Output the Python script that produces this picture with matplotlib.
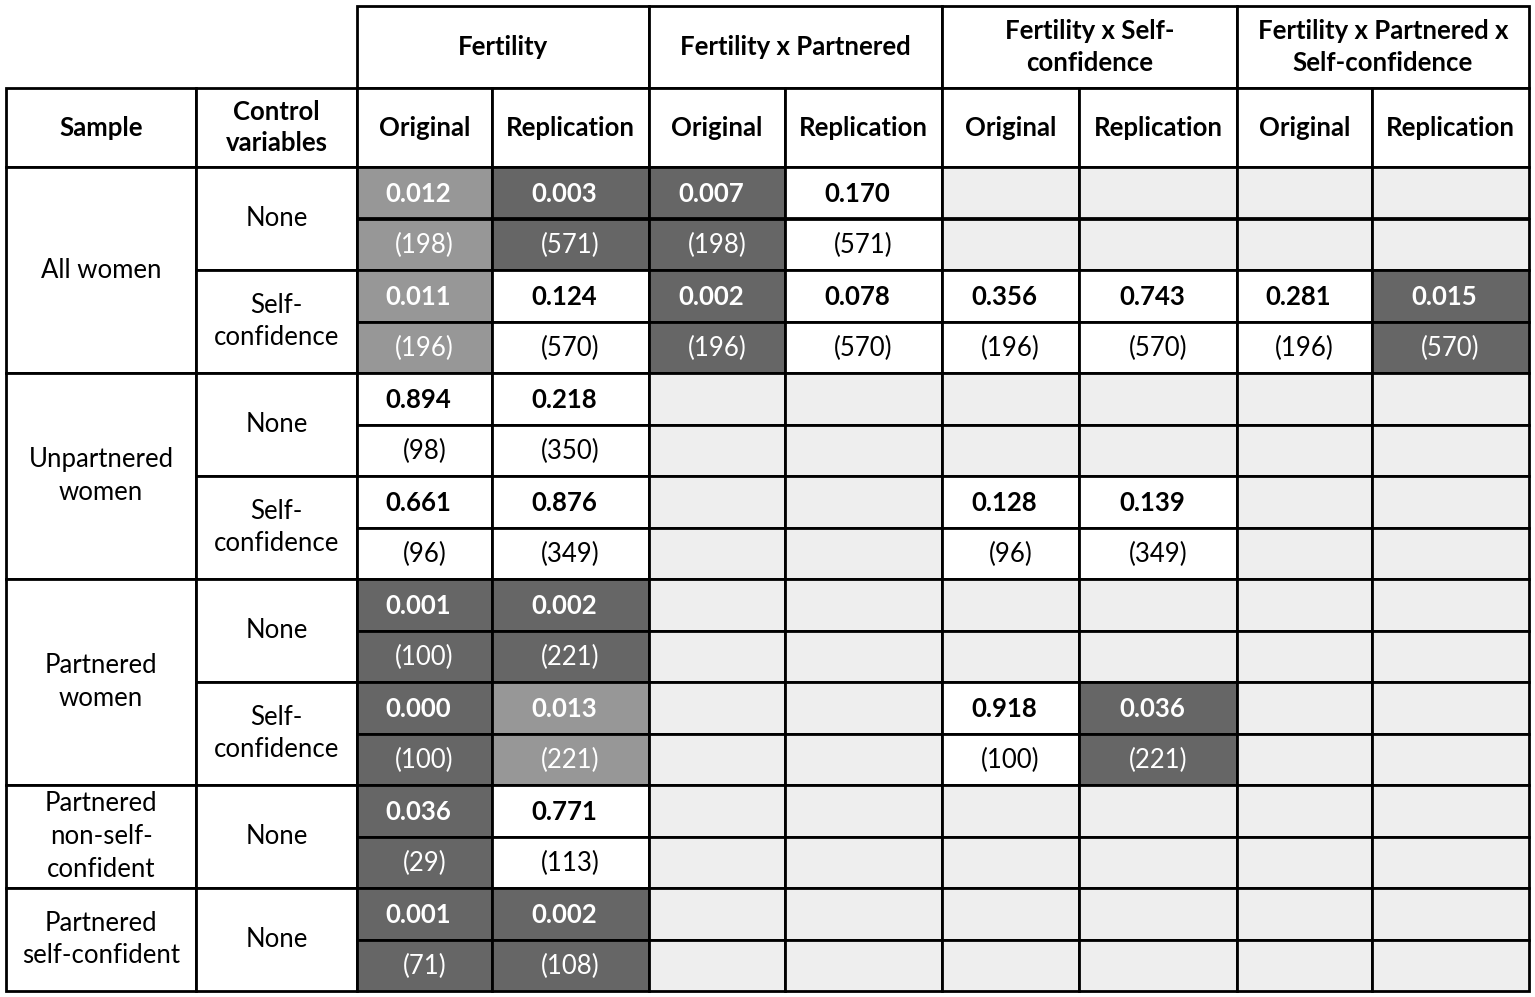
import matplotlib
matplotlib.use('Agg')
import matplotlib.pyplot as plt
from matplotlib.patches import Rectangle

plt.rcParams['font.family'] = ['Lato', 'DejaVu Sans']

groups = ['Fertility', 'Fertility x Partnered', 'Fertility x Self-\nconfidence',
          'Fertility x Partnered x\nSelf-confidence']
subcols = ['Original', 'Replication']
samples = ['All women', 'Unpartnered\nwomen', 'Partnered\nwomen',
           'Partnered\nnon-self-\nconfident', 'Partnered\nself-confident']
sample_spans = [2, 2, 2, 1, 1]
controls = ['None', 'Self-\nconfidence', 'None', 'Self-\nconfidence', 'None',
            'Self-\nconfidence', 'None', 'None']

# p-values per control row (8 columns), None = not estimated
pvals = [
    ['0.012', '0.003', '0.007', '0.170', None, None, None, None],
    ['0.011', '0.124', '0.002', '0.078', '0.356', '0.743', '0.281', '0.015'],
    ['0.894', '0.218', None, None, None, None, None, None],
    ['0.661', '0.876', None, None, '0.128', '0.139', None, None],
    ['0.001', '0.002', None, None, None, None, None, None],
    ['0.000', '0.013', None, None, '0.918', '0.036', None, None],
    ['0.036', '0.771', None, None, None, None, None, None],
    ['0.001', '0.002', None, None, None, None, None, None],
]
nobs = [
    ['198', '571', '198', '571', None, None, None, None],
    ['196', '570', '196', '570', '196', '570', '196', '570'],
    ['98', '350', None, None, None, None, None, None],
    ['96', '349', None, None, '96', '349', None, None],
    ['100', '221', None, None, None, None, None, None],
    ['100', '221', None, None, '100', '221', None, None],
    ['29', '113', None, None, None, None, None, None],
    ['71', '108', None, None, None, None, None, None],
]
# significance marking as shaded in the table: 2 = strong, 1 = weak, 0 = none
signif = [
    [1, 2, 2, 0, 0, 0, 0, 0],
    [1, 0, 2, 0, 0, 0, 0, 2],
    [0, 0, 0, 0, 0, 0, 0, 0],
    [0, 0, 0, 0, 0, 0, 0, 0],
    [2, 2, 0, 0, 0, 0, 0, 0],
    [2, 1, 0, 0, 0, 2, 0, 0],
    [2, 0, 0, 0, 0, 0, 0, 0],
    [2, 2, 0, 0, 0, 0, 0, 0],
]
shades = {2: '#666666', 1: '#979797', 0: 'white'}

# layout (pixels)
xe = [6, 196, 357, 492, 649, 785, 942, 1079, 1237, 1372, 1529]
y_top, y_h1, y_h2 = 6, 88, 167
rh = (991 - 167) / 16.0
ye = [y_h2 + i * rh for i in range(17)]
lw = 2.0
fs = 18.5

fig = plt.figure(figsize=(15.35, 9.97), dpi=100)
ax = fig.add_axes([0, 0, 1, 1])
ax.set_xlim(0, 1535)
ax.set_ylim(997, 0)
ax.axis('off')


def cell(x0, x1, y0, y1, fc='white'):
    ax.add_patch(Rectangle((x0, y0), x1 - x0, y1 - y0, facecolor=fc,
                           edgecolor='black', linewidth=lw))


def txt(x, y, s, bold=False, color='black', size=fs):
    ax.text(x, y, s, ha='center', va='center', fontsize=size, color=color,
            fontweight='bold' if bold else 'normal', linespacing=1.38)


# header row 1: groups
for g, name in enumerate(groups):
    x0, x1 = xe[2 + 2 * g], xe[4 + 2 * g]
    cell(x0, x1, y_top, y_h1)
    txt((x0 + x1) / 2, (y_top + y_h1) / 2, name, bold=True)

# header row 2
cell(xe[0], xe[1], y_h1, y_h2)
txt((xe[0] + xe[1]) / 2, (y_h1 + y_h2) / 2, 'Sample', bold=True)
cell(xe[1], xe[2], y_h1, y_h2)
txt((xe[1] + xe[2]) / 2, (y_h1 + y_h2) / 2, 'Control\nvariables', bold=True)
for c in range(8):
    x0, x1 = xe[2 + c], xe[3 + c]
    cell(x0, x1, y_h1, y_h2)
    txt((x0 + x1) / 2, (y_h1 + y_h2) / 2, subcols[c % 2], bold=True)

# sample column
r = 0
for name, span in zip(samples, sample_spans):
    y0, y1 = ye[2 * r], ye[2 * (r + span)]
    cell(xe[0], xe[1], y0, y1)
    txt((xe[0] + xe[1]) / 2, (y0 + y1) / 2, name)
    r += span

# control column and values
for i, ctrl in enumerate(controls):
    y0, y1, y2 = ye[2 * i], ye[2 * i + 1], ye[2 * i + 2]
    cell(xe[1], xe[2], y0, y2)
    txt((xe[1] + xe[2]) / 2, (y0 + y2) / 2, ctrl)
    for c in range(8):
        x0, x1 = xe[2 + c], xe[3 + c]
        p, n = pvals[i][c], nobs[i][c]
        if p is None:
            fc, tc = '#eeeeee', 'black'
        else:
            fc = shades[signif[i][c]]
            tc = 'white' if signif[i][c] else 'black'
        cell(x0, x1, y0, y1, fc)
        cell(x0, x1, y1, y2, fc)
        xc = (x0 + x1) / 2
        if p is not None:
            txt(xc - 6, (y0 + y1) / 2 + 1, p, bold=True, color=tc)
            txt(xc, (y1 + y2) / 2 + 1, '(%s)' % n, color=tc)

fig.savefig('out.png', dpi=100, facecolor='white')
